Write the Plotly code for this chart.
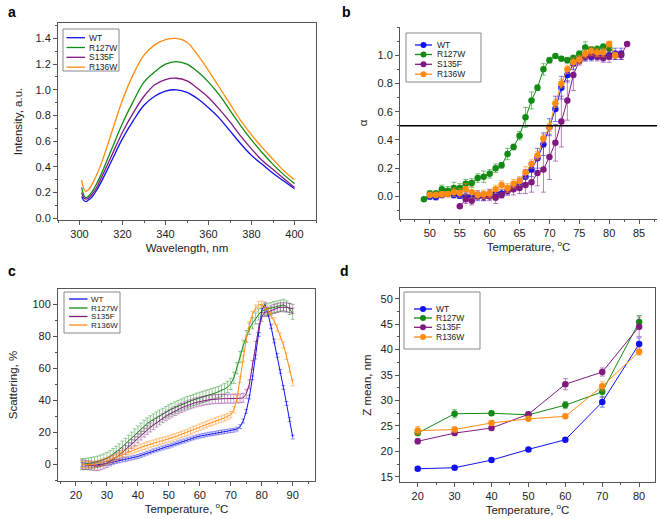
import plotly.graph_objects as go

names = ["WT", "R127W", "S135F", "R136W"]
colors = ["#1010f0", "#138a13", "#801a80", "#ff8c10"]
err_colors = ["rgba(16,16,240,0.55)", "rgba(19,138,19,0.55)", "rgba(128,26,128,0.55)", "rgba(255,140,16,0.6)"]

# panel a: emission spectra
wl = [301, 302, 303, 304, 306, 308, 310, 315, 320, 325, 330, 335, 340, 345, 350, 355, 360, 365, 370, 375, 380, 385, 390, 395, 400]
int_wt = [0.17, 0.14, 0.13, 0.14, 0.17, 0.22, 0.28, 0.45, 0.62, 0.76, 0.88, 0.95, 0.99, 1.00, 0.98, 0.93, 0.86, 0.78, 0.68, 0.58, 0.49, 0.42, 0.35, 0.29, 0.23]
int_r127w = [0.24, 0.18, 0.16, 0.17, 0.21, 0.27, 0.34, 0.54, 0.74, 0.91, 1.06, 1.14, 1.20, 1.22, 1.20, 1.14, 1.06, 0.96, 0.84, 0.72, 0.61, 0.51, 0.42, 0.34, 0.27]
int_s135f = [0.20, 0.16, 0.15, 0.155, 0.19, 0.24, 0.31, 0.49, 0.67, 0.82, 0.95, 1.04, 1.08, 1.09, 1.07, 1.01, 0.94, 0.85, 0.75, 0.64, 0.54, 0.45, 0.38, 0.31, 0.24]
int_r136w = [0.30, 0.23, 0.21, 0.22, 0.27, 0.34, 0.42, 0.67, 0.92, 1.12, 1.27, 1.35, 1.39, 1.40, 1.37, 1.27, 1.15, 1.02, 0.89, 0.76, 0.65, 0.55, 0.46, 0.37, 0.30]

# panel b: fraction unfolded
t_wt = list(range(50, 83))
a_wt = [0.0, -0.005, 0.01, 0.02, 0.01, 0.005, 0.0, 0.005, 0.0, 0.0, 0.02, 0.02, 0.02, 0.04, 0.07, 0.09, 0.14, 0.19, 0.27, 0.37, 0.49, 0.62, 0.77, 0.86, 0.94, 0.97, 0.99, 0.99, 1.0, 0.99, 1.0, 1.01, 1.01]
e_wt = [0.02, 0.02, 0.02, 0.02, 0.02, 0.02, 0.03, 0.03, 0.03, 0.03, 0.03, 0.03, 0.03, 0.03, 0.03, 0.04, 0.05, 0.05, 0.07, 0.08, 0.06, 0.09, 0.08, 0.05, 0.04, 0.03, 0.03, 0.03, 0.03, 0.03, 0.03, 0.04, 0.04]
t_r127w = list(range(49, 81))
a_r127w = [-0.02, 0.02, 0.02, 0.05, 0.04, 0.06, 0.06, 0.09, 0.095, 0.13, 0.14, 0.16, 0.20, 0.22, 0.30, 0.35, 0.43, 0.56, 0.68, 0.77, 0.90, 0.965, 0.995, 0.975, 0.965, 0.98, 1.01, 1.055, 1.04, 1.045, 1.06, 1.05]
e_r127w = [0.01, 0.02, 0.02, 0.03, 0.03, 0.04, 0.03, 0.03, 0.03, 0.03, 0.04, 0.03, 0.03, 0.02, 0.04, 0.02, 0.03, 0.07, 0.06, 0.02, 0.04, 0.02, 0.01, 0.01, 0.02, 0.02, 0.02, 0.04, 0.02, 0.02, 0.02, 0.03]
t_s135f = list(range(55, 84))
a_s135f = [-0.07, -0.02, -0.03, 0.01, 0.0, 0.0, -0.01, 0.01, 0.04, 0.05, 0.06, 0.08, 0.10, 0.165, 0.19, 0.28, 0.38, 0.53, 0.68, 0.86, 0.96, 0.99, 1.0, 0.99, 0.98, 0.99, 1.0, 1.0, 1.08]
e_s135f = [0.01, 0.03, 0.03, 0.03, 0.03, 0.03, 0.04, 0.02, 0.03, 0.04, 0.04, 0.06, 0.07, 0.09, 0.16, 0.16, 0.13, 0.18, 0.14, 0.11, 0.03, 0.03, 0.03, 0.03, 0.03, 0.04, 0.03, 0.03, 0.01]
t_r136w = list(range(50, 82))
a_r136w = [0.01, 0.01, 0.015, 0.015, 0.03, 0.025, 0.05, 0.03, 0.01, 0.015, 0.02, 0.05, 0.08, 0.06, 0.09, 0.11, 0.17, 0.23, 0.29, 0.41, 0.49, 0.66, 0.80, 0.90, 0.95, 0.97, 1.01, 1.03, 1.02, 1.02, 1.08, 1.0]
e_r136w = [0.02, 0.02, 0.02, 0.02, 0.03, 0.03, 0.04, 0.04, 0.03, 0.03, 0.03, 0.03, 0.03, 0.03, 0.03, 0.03, 0.04, 0.03, 0.03, 0.03, 0.03, 0.03, 0.03, 0.03, 0.03, 0.03, 0.03, 0.03, 0.03, 0.03, 0.02, 0.02]

# panel c: light scattering
t_scat = list(range(22, 91))
s_wt = [0, -0.3, -0.5, -0.6, -0.5, -0.3, 0, 0.3, 0.6, 1.0, 1.4, 1.8, 2.2, 2.7, 3.1, 3.5, 4.0, 4.4, 4.9, 5.6,
        6.3, 7.0, 7.7, 8.4, 9.0, 9.6, 10.2, 10.8, 11.3, 12.0, 12.7, 13.4, 14.0, 14.6, 15.3, 15.9, 16.5, 17.1, 17.6, 18.0,
        18.4, 18.8, 19.1, 19.4, 19.8, 20.1, 20.4, 20.7, 21.0, 21.3, 22.0, 23.5, 27, 33, 42, 54, 67, 81, 96, 100,
        94, 86, 77, 68, 58, 48, 38, 28, 17]
s_r127w = [0, 0.2, 0.5, 0.8, 1.2, 1.7, 2.3, 3.0, 3.9, 5.0, 6.3, 7.7, 9.3, 11.0, 12.8, 14.7, 16.6, 18.6, 20.5, 22.3,
           24.0, 25.5, 26.8, 28.0, 29.2, 30.4, 31.5, 32.6, 33.6, 34.6, 35.5, 36.4, 37.2, 38.0, 38.8, 39.5, 40.2, 40.9, 41.5, 42.1,
           42.7, 43.3, 43.9, 44.5, 45.2, 46.0, 47.0, 48.3, 50.2, 54, 60, 67, 74, 80, 84.5, 88, 91, 93.5, 95.5, 96.5,
           97, 97.5, 98, 98.5, 99, 99.5, 98.5, 97, 94]
s_s135f = [0, -0.3, -0.6, -0.8, -1.0, -1.0, -0.6, 0, 0.8, 1.8, 3.0, 4.3, 5.8, 7.4, 9.0, 10.8, 12.6, 14.4, 16.2, 18.0,
           19.8, 21.5, 23.0, 24.5, 26.0, 27.4, 28.8, 30.0, 31.2, 32.3, 33.3, 34.3, 35.2, 36.0, 36.8, 37.5, 38.1, 38.7, 39.2, 39.6,
           40.0, 40.3, 40.5, 40.7, 40.8, 40.9, 41.0, 41.0, 41.0, 41.0, 41.1, 41.2, 41.5, 44, 50, 62, 74, 85, 92, 95,
           95, 96, 97, 97.5, 98, 98, 98, 97.5, 97]
s_r136w = [0, -0.2, -0.3, -0.3, 0, 0.4, 0.9, 1.5, 2.2, 3.0, 3.8, 4.6, 5.4, 6.2, 7.0, 7.8, 8.5, 9.2, 9.9, 10.6,
           11.3, 12.0, 12.6, 13.2, 13.8, 14.3, 14.8, 15.3, 15.8, 16.5, 17.2, 17.9, 18.6, 19.3, 20.0, 20.8, 21.6, 22.4, 23.2, 24.0,
           24.8, 25.6, 26.3, 27.0, 27.7, 28.3, 29.0, 29.8, 31.0, 34, 41, 53, 66, 78, 87, 93.5, 97.5, 99.5, 100, 98.5,
           96, 93, 89.5, 85, 80, 74.5, 67.5, 59.5, 51]
se_wt = 1.2
se_r127w = 3.5
se_s135f = 2.8
se_r136w = 2.0

# panel d: DLS z-average
t_dls = [20, 30, 40, 50, 60, 70, 80]
z_wt = [16.6, 16.8, 18.3, 20.4, 22.3, 29.7, 41.1]
ze_wt = [0.3, 0.3, 0.3, 0.3, 0.3, 1.0, 1.2]
z_r127w = [23.6, 27.4, 27.5, 27.2, 29.1, 31.7, 45.4]
ze_r127w = [0.5, 0.8, 0.4, 0.4, 0.7, 1.0, 1.3]
z_s135f = [22.0, 23.6, 24.6, 27.3, 33.2, 35.6, 44.5]
ze_s135f = [0.5, 0.5, 0.4, 0.4, 1.1, 0.8, 1.9]
z_r136w = [24.1, 24.3, 25.6, 26.4, 26.9, 32.8, 39.6]
ze_r136w = [0.8, 0.5, 0.5, 0.4, 0.4, 0.9, 0.7]

W, H = 660, 519
FONT = "Liberation Sans, Arial, sans-serif"


def px(x0, x1):
    return [x0 / W, x1 / W]


def py(top, bottom):
    return [1 - bottom / H, 1 - top / H]


fig = go.Figure()

for n, c, y in zip(names, colors, [int_wt, int_r127w, int_s135f, int_r136w]):
    fig.add_trace(go.Scatter(x=wl, y=y, name=n, mode="lines", line=dict(color=c, width=1.3, shape="spline"),
                             xaxis="x", yaxis="y", showlegend=False))

for n, c, ec, t, a, e in zip(names, colors, err_colors, [t_wt, t_r127w, t_s135f, t_r136w],
                             [a_wt, a_r127w, a_s135f, a_r136w], [e_wt, e_r127w, e_s135f, e_r136w]):
    fig.add_trace(go.Scatter(x=t, y=a, name=n, mode="lines+markers", line=dict(color=c, width=1),
                             marker=dict(color=c, size=6.5),
                             error_y=dict(type="data", array=e, color=ec, thickness=1, width=2.5),
                             xaxis="x2", yaxis="y2", showlegend=False))

for n, c, ec, s, se in zip(names, colors, err_colors, [s_wt, s_r127w, s_s135f, s_r136w],
                           [se_wt, se_r127w, se_s135f, se_r136w]):
    fig.add_trace(go.Scatter(x=t_scat, y=s, name=n, mode="lines", line=dict(color=c, width=1),
                             error_y=dict(type="constant", value=se, color=ec, thickness=0.8, width=2),
                             xaxis="x3", yaxis="y3", showlegend=False))

for n, c, ec, z, ze in zip(names, colors, err_colors, [z_wt, z_r127w, z_s135f, z_r136w],
                           [ze_wt, ze_r127w, ze_s135f, ze_r136w]):
    fig.add_trace(go.Scatter(x=t_dls, y=z, name=n, mode="lines+markers", line=dict(color=c, width=1),
                             marker=dict(color=c, size=6.5),
                             error_y=dict(type="data", array=ze, color=ec, thickness=1, width=2.5),
                             xaxis="x4", yaxis="y4", showlegend=False))

tickfont = dict(family=FONT, size=11, color="#222")
titlefont = dict(family=FONT, size=11.5, color="#222")


def ax(domain, rng, dtick, mdtick, title, mirror=True, anchor=None, fmt=None, standoff=6, tickvals=None):
    d = dict(domain=domain, range=rng, dtick=dtick, showgrid=False, zeroline=False, automargin=False,
             showline=True, linecolor="#555", linewidth=1, mirror=mirror,
             ticks="outside", ticklen=4, tickcolor="#555", tickfont=tickfont,
             title=dict(text=title, font=titlefont, standoff=standoff),
             minor=dict(ticks="outside", dtick=mdtick, ticklen=2, tickcolor="#555"))
    if anchor:
        d["anchor"] = anchor
    if fmt:
        d["tickformat"] = fmt
    if tickvals is not None:
        d["tickvals"] = tickvals
        d["tickmode"] = "array"
    return d


fig.update_layout(
    width=W, height=H, margin=dict(l=0, r=0, t=0, b=0),
    paper_bgcolor="white", plot_bgcolor="white", showlegend=False,
    xaxis=ax(px(58, 316), [290, 410], 20, 10, "Wavelength, nm", anchor="y", standoff=4),
    yaxis=ax(py(23, 220), [-0.013, 1.52], 0.2, 0.1, "Intensity, a.u.", anchor="x", fmt=".1f", standoff=10),
    xaxis2=ax(px(400, 657), [45, 88], 5, 2.5, "Temperature, <sup>o</sup>C", mirror=False, anchor="y2",
              standoff=4, tickvals=[50, 55, 60, 65, 70, 75, 80, 85]),
    yaxis2=ax(py(27, 219), [-0.16, 1.2], 0.2, 0.1, "α", mirror=False, anchor="x2", fmt=".1f", standoff=7,
              tickvals=[0, 0.2, 0.4, 0.6, 0.8, 1.0]),
    xaxis3=ax(px(58, 315), [14.2, 97.2], 10, 5, "Temperature, <sup>o</sup>C", anchor="y3", standoff=4),
    yaxis3=ax(py(289, 481), [-10.4, 109.4], 20, 10, "Scattering, %", anchor="x3", standoff=12),
    xaxis4=ax(px(400, 655), [15.2, 84.3], 10, 5, "Temperature, <sup>o</sup>C", anchor="y4", standoff=4),
    yaxis4=ax(py(288, 482), [14, 52.1], 5, 2.5, "Z mean, nm", anchor="x4", standoff=6),
)

fig.add_shape(type="line", xref="x2 domain", yref="y2", x0=0, x1=1, y0=0.5, y1=0.5,
              line=dict(color="black", width=1.5))


def draw_legend(box, rows, lx0, lx1, tx, markers, fsize=8.5):
    fig.add_shape(type="rect", xref="paper", yref="paper", x0=box[0] / W, x1=box[2] / W,
                  y0=1 - box[3] / H, y1=1 - box[1] / H, line=dict(color="#888", width=1),
                  fillcolor="white", layer="above")
    for n, c, ry in zip(names, colors, rows):
        fig.add_shape(type="line", xref="paper", yref="paper", x0=lx0 / W, x1=lx1 / W,
                      y0=1 - ry / H, y1=1 - ry / H, line=dict(color=c, width=1.3), layer="above")
        if markers:
            cx = (lx0 + lx1) / 2
            fig.add_shape(type="circle", xref="paper", yref="paper", x0=(cx - 3) / W, x1=(cx + 3) / W,
                          y0=1 - (ry + 3) / H, y1=1 - (ry - 3) / H, line=dict(color=c, width=0),
                          fillcolor=c, layer="above")
        fig.add_annotation(text=n, x=tx / W, y=1 - ry / H, xref="paper", yref="paper", showarrow=False,
                           xanchor="left", yanchor="middle", font=dict(family=FONT, size=fsize, color="#222"))


draw_legend((63, 29, 119, 71), [37.7, 47.5, 57.3, 67.2], 66.5, 85, 86.5, False)
draw_legend((406, 33, 481, 82), [45, 54.5, 64.3, 74.2], 415, 432, 434.5, True)
draw_legend((64, 292, 120, 333), [299, 308, 316.5, 325], 69, 87.5, 89, False, fsize=8)
draw_legend((404, 292, 480, 349), [309, 318, 327.3, 337], 414, 432, 433.5, True)

for lab, x, y in [("a", 6, 12), ("b", 340, 12), ("c", 6, 271), ("d", 338, 271)]:
    fig.add_annotation(text="<b>%s</b>" % lab, x=x / W, y=1 - y / H, xref="paper", yref="paper",
                       showarrow=False, xanchor="left", yanchor="middle",
                       font=dict(family=FONT, size=14, color="black"))

fig.write_html("out.html", config={"displayModeBar": False},
               post_script="document.body.style.margin='0px';")
